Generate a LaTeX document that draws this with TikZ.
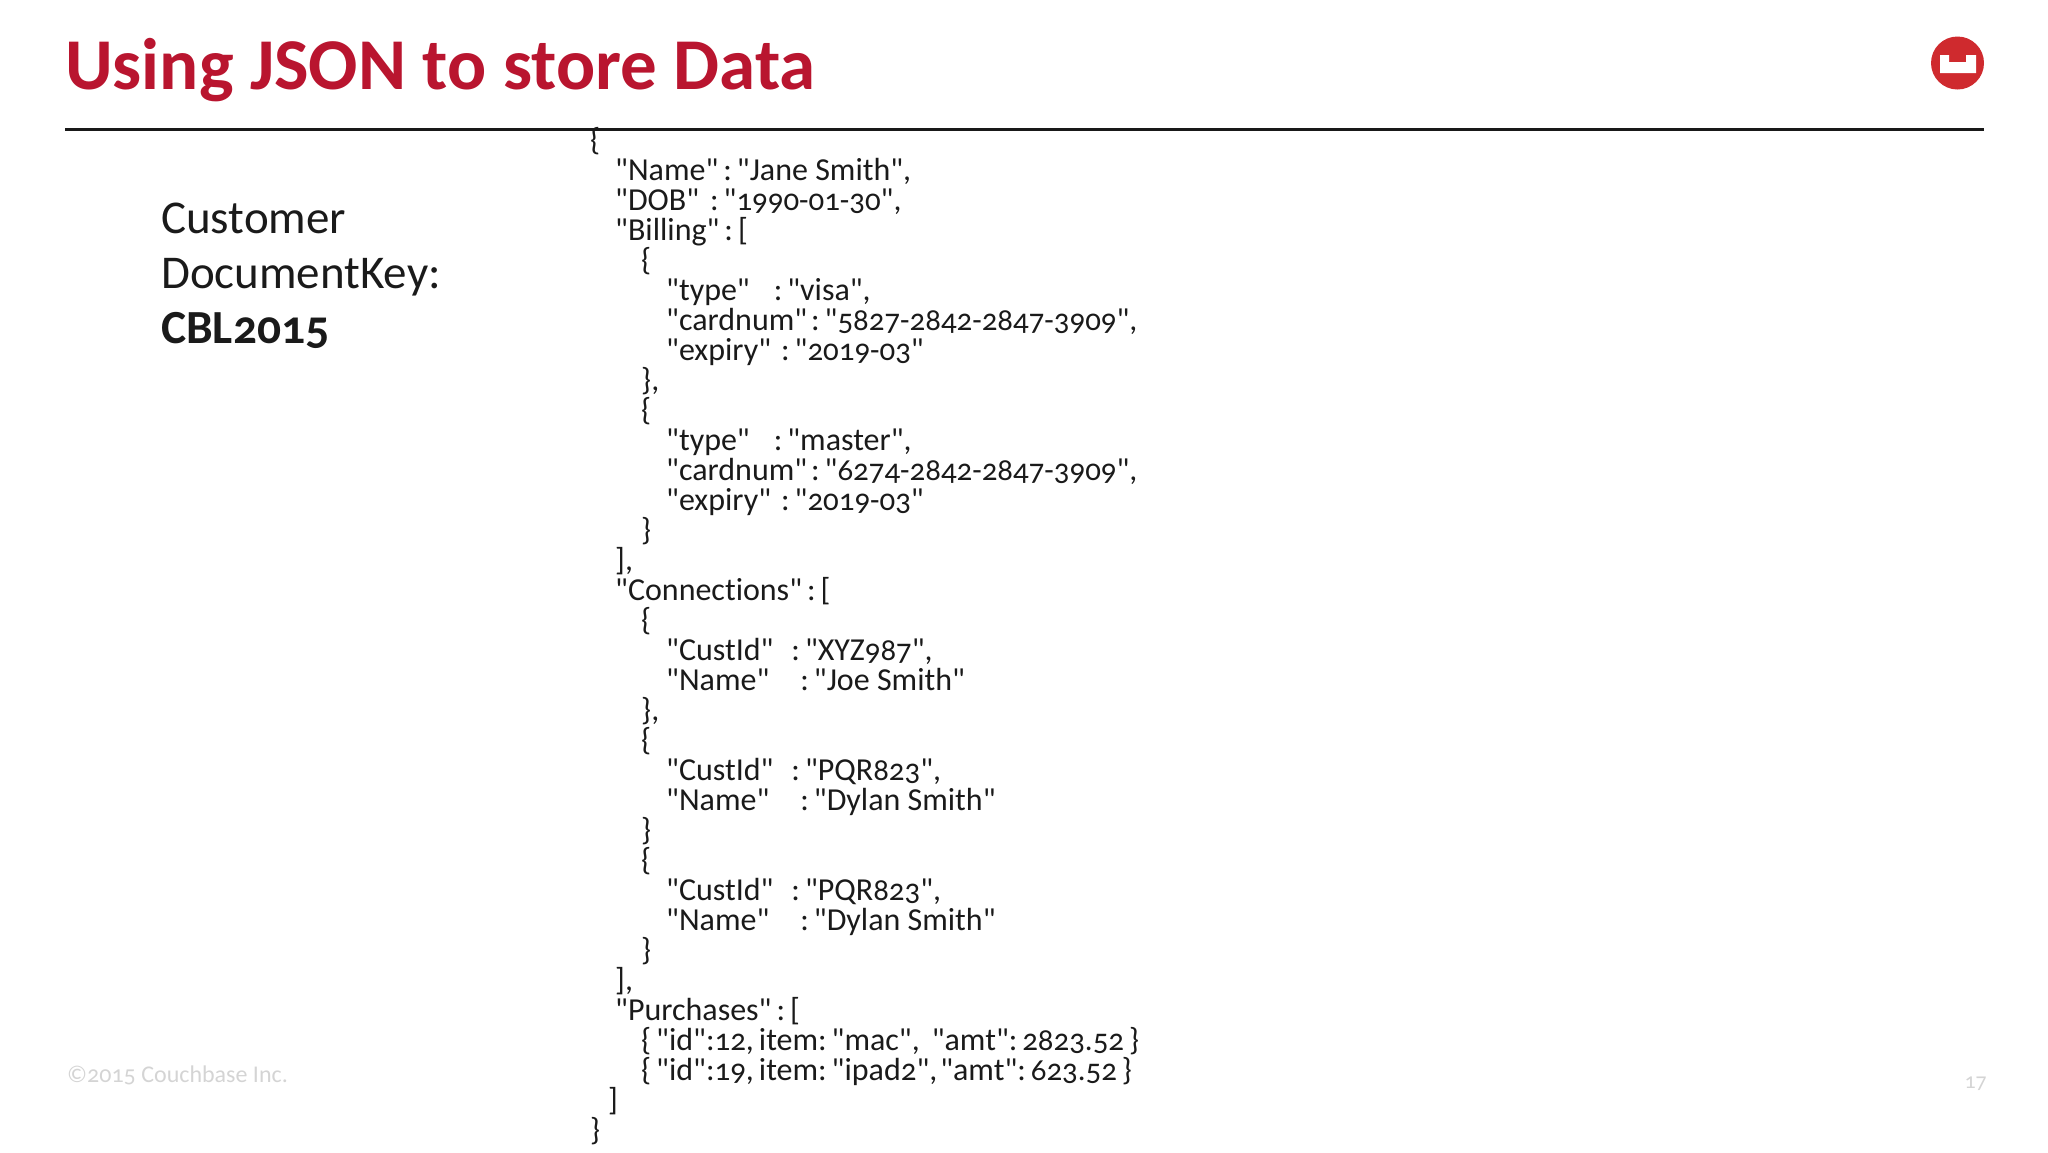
\documentclass[tikz,border=0pt]{standalone}
\usepackage{fontspec}
\newfontfamily\cb[Numbers=OldStyle,Ligatures=NoCommon]{Carlito}
\definecolor{cbred}{HTML}{B9152F}
\definecolor{logored}{HTML}{CF2A2E}
\definecolor{inktext}{HTML}{1A1A1A}
\definecolor{foot}{HTML}{D4D4D4}
\tikzset{
  jsonline/.style={anchor=base west,inner sep=0pt,text=inktext,font=\cb\fontsize{32}{32}\selectfont},
  sidetext/.style={anchor=base west,inner sep=0pt,text=inktext,font=\cb\fontsize{47}{47}\selectfont},
  footer/.style={inner sep=0pt,text=foot,font=\cb\fontsize{24}{24}\selectfont},
}
\newcommand\jl[3]{\node[jsonline] (l#1) at (#2,{150+30.02*(#1-1)}) {#3};}
\newcommand\kv[1]{\hspace*{#1pt}:\hspace*{5pt}}
\newcommand\dg[1]{{\fontsize{30.9}{30}\selectfont #1}}
\newcommand\gp[1]{\hspace*{#1pt}}
\begin{document}
\begin{tikzpicture}[x=1pt,y=-1pt]
\useasboundingbox (0,0) rectangle (2048,1152);
\node[anchor=base west,inner sep=0pt,text=cbred,font=\cb\fontsize{73}{73}\selectfont\bfseries] (title) at (65,89.5) {Using JSON to store Data};
\coordinate (ruleL) at (65,129);
\coordinate (ruleR) at (1984,129);
\draw[line width=3pt,black!90] (ruleL) -- (ruleR);
\fill[logored] (1957.5,63) circle (26.5);
\fill[white] (1940,55) -- (1949,55) -- (1949,62) -- (1966,62) -- (1966,55) -- (1976,55) -- (1976,73) -- (1940,73) -- cycle;
\node[sidetext] (s1) at (161,233) {Customer};
\node[sidetext] (s2) at (161,288) {DocumentKey:};
\node[sidetext,font=\cb\fontsize{47.5}{47}\selectfont\bfseries] (s3) at (161,343) {CBL2015};
\jl{1}{590}{\{}
\jl{2}{615}{"Name"\kv{5}"Jane Smith",}
\jl{3}{615}{"DOB"\kv{11}"\dg{1990-01-30}",}
\jl{4}{615}{"Billing"\kv{5}[}
\jl{5}{641}{\{}
\jl{6}{666}{"type"\kv{24}"visa",}
\jl{7}{666}{"cardnum"\kv{4}"\dg{5827-2842-2847-3909}",}
\jl{8}{666}{"expiry"\kv{10}"\dg{2019-03}"}
\jl{9}{641}{\},}
\jl{10}{641}{\{}
\jl{11}{666}{"type"\kv{24}"master",}
\jl{12}{666}{"cardnum"\kv{4}"\dg{6274-2842-2847-3909}",}
\jl{13}{666}{"expiry"\kv{10}"\dg{2019-03}"}
\jl{14}{641}{\}}
\jl{15}{615}{],}
\jl{16}{615}{"Connections"\kv{5}[}
\jl{17}{641}{\{}
\jl{18}{666}{"CustId"\kv{18}"XYZ\dg{987}",}
\jl{19}{666}{"Name"\kv{31}"Joe Smith"}
\jl{20}{641}{\},}
\jl{21}{641}{\{}
\jl{22}{666}{"CustId"\kv{18}"PQR\dg{823}",}
\jl{23}{666}{"Name"\kv{31}"Dylan Smith"}
\jl{24}{641}{\}}
\jl{25}{641}{\{}
\jl{26}{666}{"CustId"\kv{18}"PQR\dg{823}",}
\jl{27}{666}{"Name"\kv{31}"Dylan Smith"}
\jl{28}{641}{\}}
\jl{29}{615}{],}
\jl{30}{615}{"Purchases"\kv{5}[}
\jl{31}{641}{\{\gp{5}"id":\dg{12},\gp{5}item:\gp{5}"mac",\gp{12}"amt":\gp{5}\dg{2823.52}\gp{5}\}}
\jl{32}{641}{\{\gp{5}"id":\dg{19},\gp{5}item:\gp{5}"ipad\dg{2}",\gp{3}"amt":\gp{5}\dg{623.52}\gp{5}\}}
\jl{33}{608}{]}
\jl{34}{590}{\}}
\node[footer,anchor=base west] (copy) at (67,1082) {©2015 Couchbase Inc.};
\node[footer,anchor=base east,font=\cb\fontsize{22}{22}\selectfont] (page) at (1987,1088) {17};
\end{tikzpicture}
\end{document}
